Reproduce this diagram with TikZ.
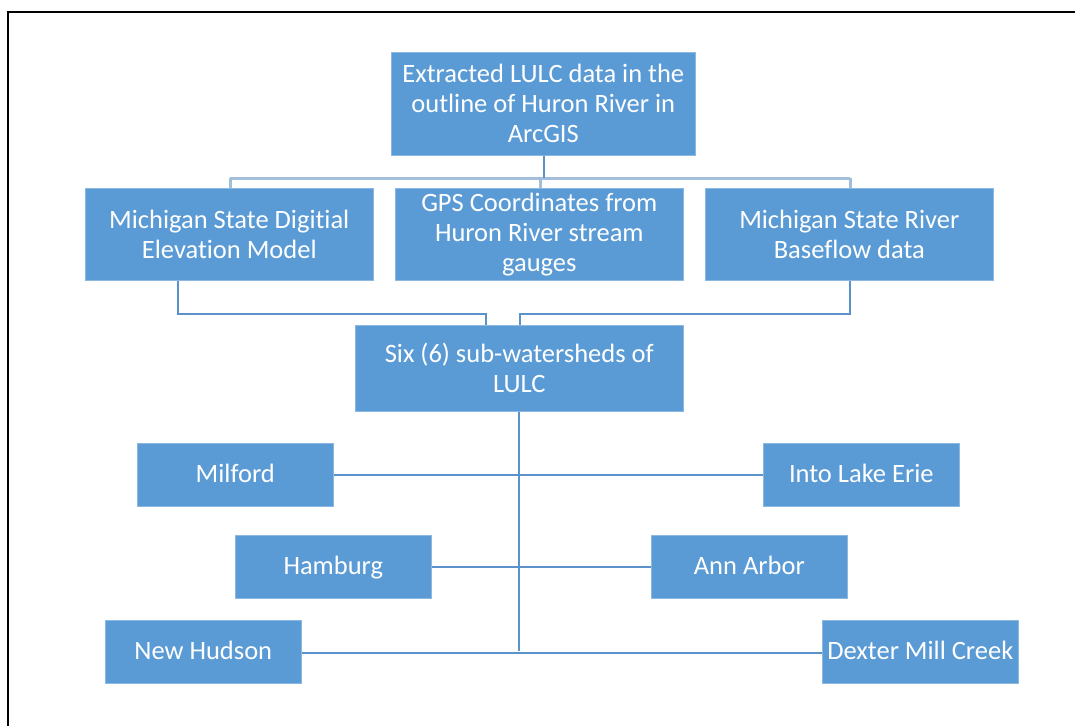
\documentclass[tikz,border=0pt]{standalone}
\usepackage{fontspec}
\setmainfont[Ligatures=NoCommon]{Carlito}
\definecolor{boxblue}{HTML}{5B9BD5}
\definecolor{lineblue}{HTML}{5A93CC}
\definecolor{barblue}{HTML}{A3BEDB}
\begin{document}
\begin{tikzpicture}[x=1pt,y=-1pt,
  box/.style={draw=boxblue!70!white, line width=0.6pt, fill=boxblue, text=white, inner sep=0pt,
    align=center, font=\fontsize{26.5}{30}\selectfont, anchor=north west},
  small/.style={box, minimum width=196pt, minimum height=63pt, text height=20pt, text depth=4pt},
  conn/.style={draw=lineblue, line width=2pt},
  bar/.style={draw=barblue, line width=3pt}]
\useasboundingbox (0,0) rectangle (1075,725);
\fill[white] (0,0) rectangle (1075,725);
% frame
\draw[line width=2.2pt] (8,740) -- (8,12) -- (1090,12);
% boxes
\node[box, minimum width=304pt, minimum height=103pt] (top) at (391,52) {Extracted LULC data in the\\outline of Huron River in\\ArcGIS};
\node[box, minimum width=288pt, minimum height=92pt] (dem) at (85,188) {Michigan State Digitial\\Elevation Model};
\node[box, minimum width=288pt, minimum height=92pt] (gps) at (395,188) {GPS Coordinates from\\Huron River stream\\gauges};
\node[box, minimum width=288pt, minimum height=92pt] (base) at (705,188) {Michigan State River\\Baseflow data};
\node[box, minimum width=328pt, minimum height=86pt] (six) at (355,325) {Six (6) sub-watersheds of\\LULC};
\node[small] (milford) at (137,443) {Milford};
\node[small] (erie) at (763,443) {Into Lake Erie};
\node[small] (hamburg) at (235,535) {Hamburg};
\node[small] (annarbor) at (651,535) {Ann Arbor};
\node[small] (newhudson) at (105,620) {New Hudson};
\node[small] (dexter) at (822,620) {Dexter Mill Creek};
% coordinates
\coordinate (barL) at (230,178);
\coordinate (barR) at (850,178);
\coordinate (spineEnd) at (519,651);
% top connectors
\draw[bar] (barL) -- (barR);
\draw[bar] (barL) -- (barL |- dem.north);
\draw[bar] (barR) -- (barR |- base.north);
\draw[bar] (540,178) -- (540,188);
\draw[conn] ([xshift=153pt]top.south west) -- (544,178);
% row 2 to six
\draw[conn] ([xshift=93pt]dem.south west) -- (178,314) -- (486,314) -- ([xshift=131pt]six.north west);
\draw[conn] ([xshift=145pt]base.south west) -- (850,314) -- (520,314) -- ([xshift=165pt]six.north west);
% spine
\draw[conn] ([xshift=164pt]six.south west) -- (spineEnd);
\draw[conn] (milford.east) -- (erie.west);
\draw[conn] (hamburg.east) -- (annarbor.west);
\draw[conn] ([yshift=-1pt]newhudson.east) -- ([yshift=-1pt]dexter.west);
\end{tikzpicture}
\end{document}
